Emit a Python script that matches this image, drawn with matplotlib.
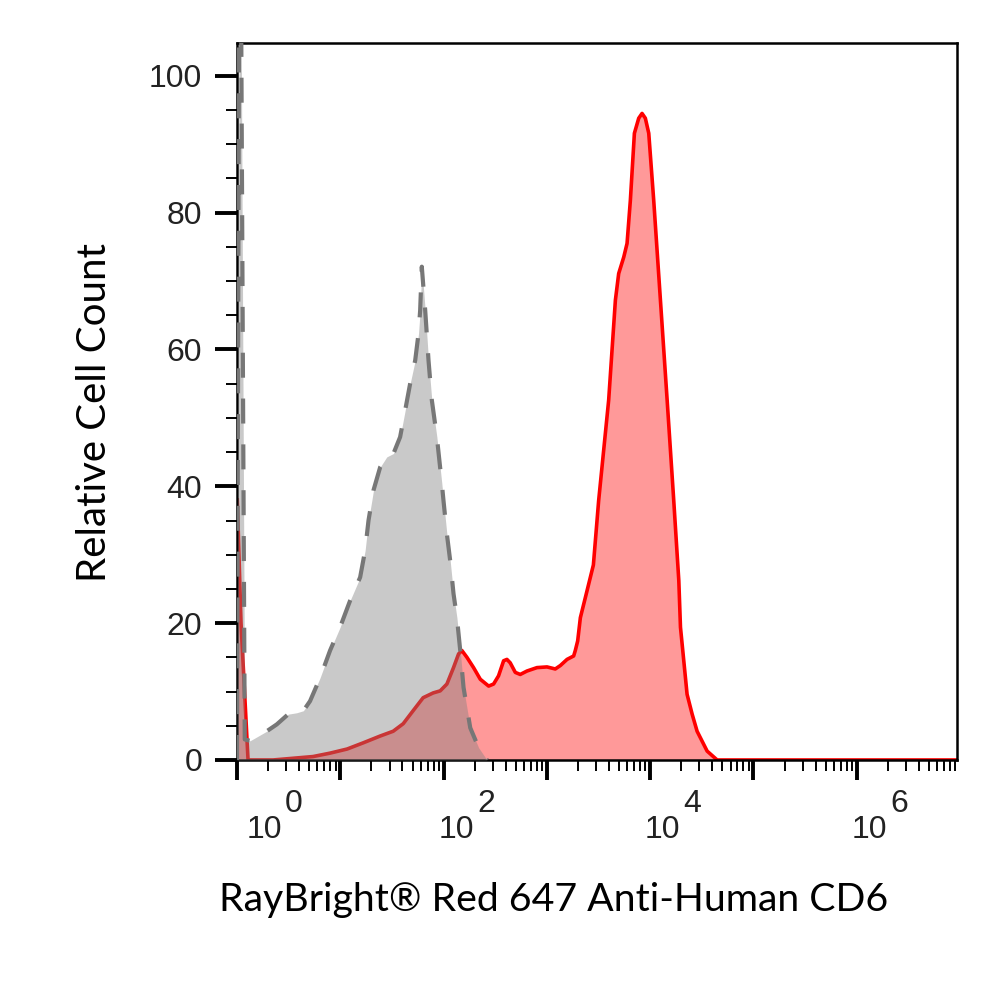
import numpy as np
import matplotlib
matplotlib.use("Agg")
import matplotlib.pyplot as plt
from matplotlib.ticker import MultipleLocator, LogLocator, NullFormatter

# isotype control (gray) - intensity in log10 decades, relative count
gray_log = [0.0, 0.02, 0.04, 0.075, 0.126, 0.288, 0.385, 0.497, 0.578, 0.643,
            0.707, 0.804, 0.901, 0.998, 1.095, 1.192, 1.240, 1.273, 1.305, 1.321,
            1.386, 1.450, 1.515, 1.579, 1.628, 1.676, 1.725, 1.757, 1.773, 1.789,
            1.822, 1.854, 1.886, 1.935, 1.983, 1.999, 2.032, 2.064, 2.096, 2.129,
            2.161, 2.193, 2.258, 2.339, 2.420]
gray_cnt = [0, 110, 110, 3.0, 2.8, 4.2, 5.2, 6.7, 6.9, 7.2,
            8.6, 12.0, 16.0, 19.4, 23.3, 26.7, 30.6, 35.0, 37.9, 39.4,
            42.8, 44.3, 44.8, 47.2, 51.1, 55.0, 58.4, 62.3, 65.7, 72.1,
            65.7, 58.4, 52.6, 47.2, 40.4, 37.9, 33.0, 29.1, 24.3, 20.8,
            16.0, 10.6, 4.7, 1.8, 0]

# CD6 stained (red)
red_log = [0.003, 0.039, 0.107, 0.349, 0.581, 0.736, 0.901, 1.066, 1.221, 1.386,
           1.512, 1.609, 1.705, 1.802, 1.899, 1.967, 2.032, 2.096, 2.145, 2.177,
           2.226, 2.290, 2.355, 2.436, 2.484, 2.532, 2.581, 2.613, 2.645, 2.694,
           2.742, 2.807, 2.904, 3.001, 3.081, 3.130, 3.195, 3.259, 3.275, 3.298,
           3.324, 3.388, 3.450, 3.501, 3.598, 3.663, 3.695, 3.744, 3.776, 3.808,
           3.847, 3.889, 3.921, 3.953, 3.986, 4.034, 4.099, 4.164, 4.228, 4.277,
           4.293, 4.325, 4.357, 4.406, 4.454, 4.551, 4.648, 6.97]
red_cnt = [38, 20, 0, 0, 0.3, 0.5, 1.0, 1.6, 2.5, 3.5,
           4.2, 5.3, 7.2, 9.1, 9.8, 10.1, 11.1, 13.5, 15.5, 16.0,
           15.0, 13.5, 11.8, 10.8, 11.1, 12.3, 14.5, 14.7, 14.2, 12.8,
           12.5, 13.0, 13.5, 13.6, 13.3, 13.8, 14.7, 15.2, 16.0, 17.4,
           20.8, 24.7, 28.5, 37.9, 52.6, 67.2, 71.1, 73.5, 75.5, 81.8,
           91.6, 93.8, 94.5, 93.8, 91.6, 81.8, 67.2, 52.6, 37.9, 26.2,
           19.4, 14.5, 9.6, 6.7, 4.2, 1.3, 0, 0]

x_label_exps = [0, 2, 4, 6]
y_ticks = [0, 20, 40, 60, 80, 100]

fig = plt.figure(figsize=(10, 9.92), dpi=100)
ax = fig.add_axes([0.237, 0.2339, 0.720, 0.7228])

gx = 10 ** np.array(gray_log)
rx = 10 ** np.array(red_log)

ax.fill_between(rx, red_cnt, 0, color="#FF9999", lw=0, zorder=1)
ax.plot(rx, red_cnt, color="#FF0000", lw=2.6, solid_joinstyle="round", zorder=2)
ax.fill_between(gx, gray_cnt, 0, color="#808080", alpha=0.42, lw=0, zorder=3)
ax.plot(gx, gray_cnt, color="#777777", lw=3.0, dashes=(6, 5), zorder=4)

ax.set_xscale("log")
ax.set_xlim(1, 10 ** 6.97)
ax.set_ylim(0, 104.8)

ax.set_xticks([10 ** k for k in range(7)])
ax.xaxis.set_minor_locator(LogLocator(base=10, subs=np.arange(2, 10), numticks=20))
ax.xaxis.set_major_formatter(NullFormatter())
ax.xaxis.set_minor_formatter(NullFormatter())
ax.set_yticks(y_ticks)
ax.yaxis.set_minor_locator(MultipleLocator(5))

ax.tick_params(axis="x", which="major", direction="out", length=14.5, width=2.8)
ax.tick_params(axis="x", which="minor", direction="out", length=8, width=1.4)
ax.tick_params(axis="y", which="major", direction="out", length=16, width=2.8, pad=9,
               labelsize=23)
ax.tick_params(axis="y", which="minor", direction="out", length=8, width=1.4)
for lab in ax.get_yticklabels():
    lab.set_fontfamily("Liberation Sans")
    lab.set_color("#222222")

for s in ax.spines.values():
    s.set_linewidth(1.8)

# decade labels drawn as "10" plus a raised exponent
for e in x_label_exps:
    dx = 27 if e == 0 else 12.5
    ax.annotate("10", xy=(10 ** e, 0), xycoords=("data", "axes fraction"),
                xytext=(dx, -78), textcoords="offset pixels", ha="center",
                va="baseline", fontsize=23, family="Liberation Sans",
                color="#222222", annotation_clip=False)
    ax.annotate(str(e), xy=(10 ** e, 0), xycoords=("data", "axes fraction"),
                xytext=(dx + 21, -52), textcoords="offset pixels", ha="left",
                va="baseline", fontsize=23, family="Liberation Sans",
                color="#222222", annotation_clip=False)

xl = fig.text(554 / 1000, 1 - 900 / 992, "RayBright® Red 647 Anti-Human CD6",
              ha="center", va="center", fontsize=30, family="Lato")
yl = fig.text(95 / 1000, 1 - 412 / 992, "Relative Cell Count", rotation=90,
              ha="center", va="center", fontsize=30, family="Lato")

# scale axis titles to the widths seen in the reference
fig.canvas.draw()
r = fig.canvas.get_renderer()
bb = xl.get_window_extent(r)
xl.set_fontsize(30 * 668 / bb.width)
bb = yl.get_window_extent(r)
yl.set_fontsize(30 * 339 / bb.height)

fig.savefig("out.png", dpi=100)
